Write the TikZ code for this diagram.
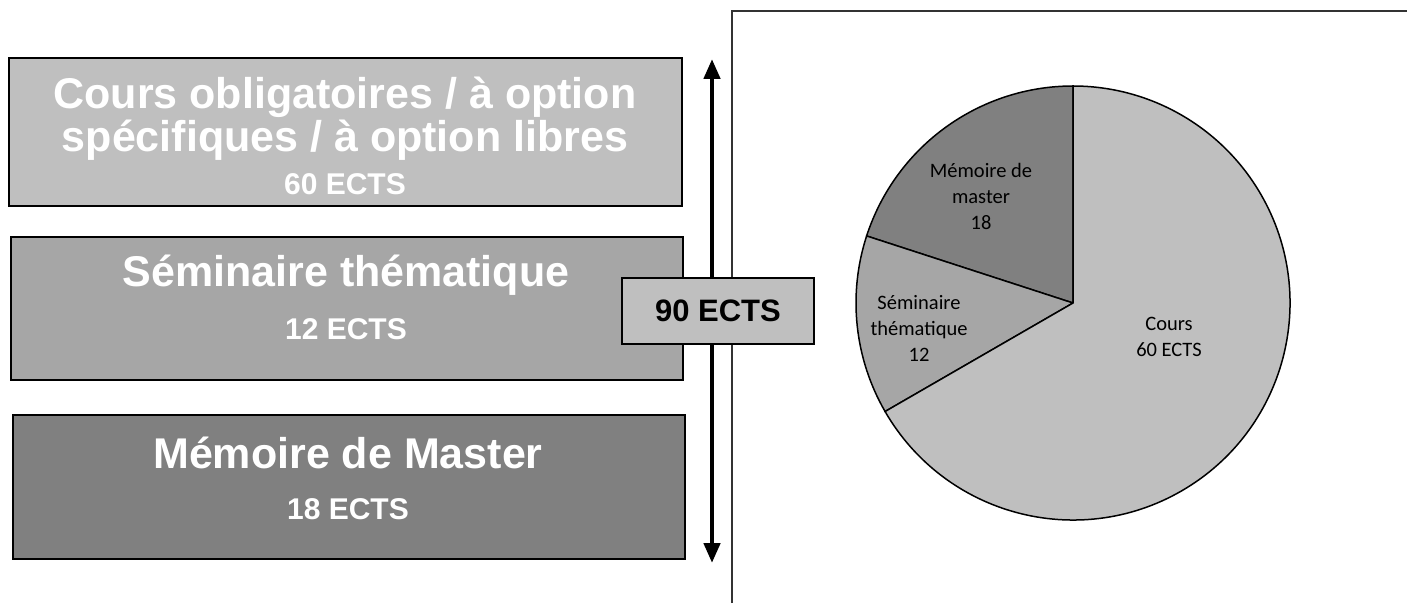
\documentclass[tikz,border=0pt]{standalone}
\usepackage{fontspec}
\setmainfont{Liberation Sans}
\newfontfamily\piefont{Carlito}
\usetikzlibrary{positioning,arrows.meta}

\definecolor{light}{gray}{0.75}
\definecolor{mid}{gray}{0.65}
\definecolor{dark}{gray}{0.5}

\tikzset{
  every block/.style={draw=black, line width=2pt, inner sep=0pt},
  block title/.style={text=white, anchor=base, inner sep=0pt, font=\bfseries\fontsize{43}{46}\selectfont},
  block ects/.style={text=white, anchor=base, inner sep=0pt, font=\bfseries\fontsize{30}{33}\selectfont},
  pie label/.style={font=\piefont\fontsize{20.5}{26}\selectfont, align=center}
}

\begin{document}
\begin{tikzpicture}[x=1pt, y=1pt, >={Triangle[width=16pt,length=20pt]}]

\useasboundingbox (0,0) rectangle (1407,603);

% frame of the chart
\draw [line width=1.5pt, black!80] (732,0) -- (732,592) -- (1407,592);

% blocks on the left
\node [every block, fill=light, minimum width=673, minimum height=148] (cours) at (345.5,471) {};
\node [every block, fill=mid, minimum width=672, minimum height=143] (seminaire) at (347,294.5) {};
\node [every block, fill=dark, minimum width=672, minimum height=144] (memoire) at (349,116) {};

\node [block title] (cours-title1) at (345,494) {Cours obligatoires / à option};
\node [block title] (cours-title2) at (345,451) {spécifiques / à option libres};
\node [block ects] (cours-ects) at (345,408) {60 ECTS};

\node [block title] (seminaire-title) at (346,316) {Séminaire thématique};
\node [block ects] (seminaire-ects) at (346,264) {12 ECTS};

\node [block title] (memoire-title) at (348,135) {Mémoire de Master};
\node [block ects] (memoire-ects) at (348,84) {18 ECTS};

% total
\coordinate (top) at (712,544);
\coordinate (bottom) at (712,40);
\draw [<->, line width=4.5pt] (top) -- (bottom);

\node [draw=black, line width=2pt, fill=light, minimum width=192, minimum height=66,
  font=\bfseries\fontsize{31}{34}\selectfont] (total) at (718,292) {90 ECTS};

% pie
\coordinate (centre) at (1073,300);
\foreach \a/\b/\c in {90/162/dark, 162/210/mid, 210/450/light}
  \filldraw [fill=\c, line width=1.5pt] (centre) -- ++(\a:217) arc (\a:\b:217) -- cycle;

\node [pie label] (pie-memoire) at (981,407) {Mémoire de\\master\\18};
\node [pie label] (pie-seminaire) at (919,275) {Séminaire\\thématique\\12};
\node [pie label] (pie-cours) at (1169,266.5) {Cours\\60 ECTS};

\end{tikzpicture}
\end{document}
